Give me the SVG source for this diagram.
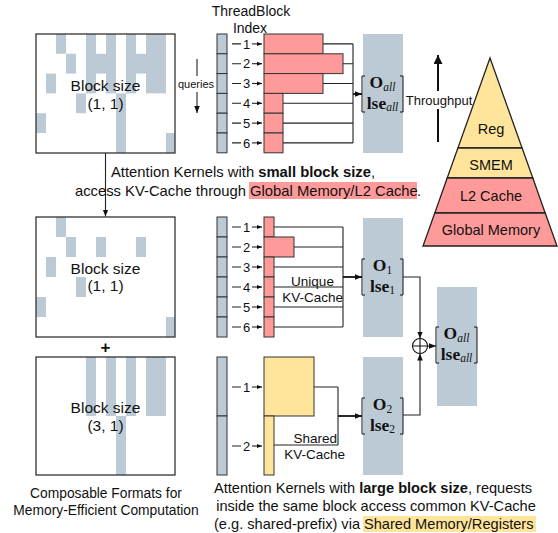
<svg xmlns="http://www.w3.org/2000/svg" width="558" height="533" viewBox="0 0 558 533">
<defs>
<style>
.mat{fill:none;stroke:#333;stroke-width:1.3}
.cell{fill:#bccad5}
.strip{fill:#bccad5;stroke:#333;stroke-width:1}
.red{fill:#ff9a9a;stroke:#333;stroke-width:1}
.yel{fill:#ffe59c;stroke:#333;stroke-width:1}
.gbox{fill:#bccad5}
.ln{fill:none;stroke:#222;stroke-width:1.1}
.arr{fill:none;stroke:#111;stroke-width:1.8}
.t{font-family:"Liberation Sans",Arial,sans-serif;fill:#111}
.m{font-family:"Liberation Serif","DejaVu Serif",serif;fill:#111}
.br{fill:none;stroke:#111;stroke-width:1}
.lab{font-family:"Liberation Sans",Arial,sans-serif;font-size:13px;fill:#111;text-anchor:middle}
</style>
<marker id="ah" viewBox="0 0 10 10" refX="10" refY="5" markerWidth="7" markerHeight="7" markerUnits="userSpaceOnUse" orient="auto"><path d="M0,1 L10,5 L0,9 z" fill="#111"/></marker>
<marker id="ahs" viewBox="0 0 10 10" refX="10" refY="5" markerWidth="5" markerHeight="5" markerUnits="userSpaceOnUse" orient="auto"><path d="M0,1 L10,5 L0,9 z" fill="#111"/></marker>
<marker id="ahb" viewBox="0 0 10 10" refX="10" refY="5" markerWidth="10" markerHeight="9" markerUnits="userSpaceOnUse" orient="auto"><path d="M0,0 L10,5 L0,10 z" fill="#111"/></marker>
</defs>
<rect width="558" height="533" fill="#fff"/>

<!-- Matrices -->
<g id="matrix-top" transform="translate(36,34)">
<rect class="cell" x="20" y="0" width="10" height="19.8"/>
<rect class="cell" x="30" y="19.8" width="10" height="19.8"/>
<rect class="cell" x="50" y="0" width="10" height="59.4"/>
<rect class="cell" x="60" y="19.8" width="10" height="19.8"/>
<rect class="cell" x="70" y="0" width="10" height="59.4"/>
<rect class="cell" x="90" y="0" width="10" height="59.4"/>
<rect class="cell" x="100" y="19.8" width="10" height="19.8"/>
<rect class="cell" x="110" y="0" width="20" height="59.4"/>
<rect class="cell" x="10" y="39.6" width="10" height="19.8"/>
<rect class="cell" x="40" y="59.4" width="10" height="19.8"/>
<rect class="cell" x="80" y="59.4" width="10" height="59.6"/>
<rect class="cell" x="0" y="79.2" width="10" height="19.8"/>
<rect class="cell" x="130" y="99" width="9" height="20"/>
<rect class="mat" x="0" y="0" width="139" height="119"/>
<text class="t" x="69.5" y="57" font-size="15.5" text-anchor="middle">Block size</text>
<text class="t" x="69.5" y="74.5" font-size="15.5" text-anchor="middle">(1, 1)</text>
</g>

<g id="matrix-mid" transform="translate(36,217)">
<rect class="cell" x="20" y="0" width="10" height="20"/>
<rect class="cell" x="30" y="20" width="10" height="20"/>
<rect class="cell" x="60" y="20" width="10" height="20"/>
<rect class="cell" x="100" y="20" width="10" height="20"/>
<rect class="cell" x="10" y="40" width="10" height="20"/>
<rect class="cell" x="40" y="60" width="10" height="20"/>
<rect class="cell" x="0" y="80" width="10" height="20"/>
<rect class="cell" x="130" y="100" width="9" height="20"/>
<rect class="mat" x="0" y="0" width="139" height="120"/>
<text class="t" x="69.5" y="56.5" font-size="15.5" text-anchor="middle">Block size</text>
<text class="t" x="69.5" y="74" font-size="15.5" text-anchor="middle">(1, 1)</text>
</g>

<g id="plus"><text class="t" x="105.5" y="352.5" font-size="17" font-weight="bold" text-anchor="middle">+</text></g>

<g id="matrix-bottom" transform="translate(36,357)">
<rect class="cell" x="50" y="0" width="10" height="59"/>
<rect class="cell" x="70" y="0" width="10" height="59"/>
<rect class="cell" x="90" y="0" width="10" height="59"/>
<rect class="cell" x="110" y="0" width="20" height="59"/>
<rect class="cell" x="80" y="59" width="10" height="59"/>
<rect class="mat" x="0" y="0" width="139" height="118"/>
<text class="t" x="69.5" y="56" font-size="15.5" text-anchor="middle">Block size</text>
<text class="t" x="69.5" y="73.5" font-size="15.5" text-anchor="middle">(3, 1)</text>
</g>

<g id="caption-left">
<text class="t" x="106" y="498" font-size="13.8" text-anchor="middle">Composable Formats for</text>
<text class="t" x="106" y="515" font-size="13.8" text-anchor="middle">Memory-Efficient Computation</text>
</g>

<!-- ThreadBlock header -->
<g id="header">
<text class="t" x="251" y="16" font-size="14" text-anchor="middle">ThreadBlock</text>
<text class="t" x="250" y="33" font-size="14" text-anchor="middle">Index</text>
<text class="t" x="196" y="87.5" font-size="11" text-anchor="middle">queries</text>
</g>

<!-- Top kernel -->
<g id="kernel-top">
<rect class="strip" x="217" y="34" width="10" height="19.8"/>
<rect class="strip" x="217" y="53.8" width="10" height="19.8"/>
<rect class="strip" x="217" y="73.6" width="10" height="19.8"/>
<rect class="strip" x="217" y="93.4" width="10" height="19.8"/>
<rect class="strip" x="217" y="113.2" width="10" height="19.8"/>
<rect class="strip" x="217" y="133" width="10" height="19.8"/>
<rect class="red" x="264" y="34" width="59" height="19.8"/>
<rect class="red" x="264" y="53.8" width="79" height="19.8"/>
<rect class="red" x="264" y="73.6" width="59" height="19.8"/>
<rect class="red" x="264" y="93.4" width="19" height="19.8"/>
<rect class="red" x="264" y="113.2" width="19" height="19.8"/>
<rect class="red" x="264" y="133" width="19" height="19.8"/>
</g>
<g id="out-top">
<rect class="gbox" x="363" y="34" width="40" height="119"/>
<path class="br" d="M365,76 h-3 v36 h3 M400,76 h3 v36 h-3"/>
<text class="m" x="382.5" y="88" font-size="17.5" text-anchor="middle"><tspan font-weight="bold">O</tspan><tspan font-size="11.5" font-style="italic" dy="2.5">all</tspan></text>
<text class="m" x="382.5" y="108.5" font-size="17.5" text-anchor="middle"><tspan font-weight="bold">lse</tspan><tspan font-size="11.5" font-style="italic" dy="2.5">all</tspan></text>
</g>

<!-- Middle kernel -->
<g id="kernel-mid">
<rect class="strip" x="217" y="217" width="10" height="20"/>
<rect class="strip" x="217" y="237" width="10" height="20"/>
<rect class="strip" x="217" y="257" width="10" height="20"/>
<rect class="strip" x="217" y="277" width="10" height="20"/>
<rect class="strip" x="217" y="297" width="10" height="20"/>
<rect class="strip" x="217" y="317" width="10" height="20"/>
<rect class="red" x="264" y="217" width="10" height="20"/>
<rect class="red" x="264" y="237" width="30" height="20"/>
<rect class="red" x="264" y="257" width="10" height="20"/>
<rect class="red" x="264" y="277" width="10" height="20"/>
<rect class="red" x="264" y="297" width="10" height="20"/>
<rect class="red" x="264" y="317" width="10" height="20"/>
</g>
<g id="out-1">
<rect class="gbox" x="363" y="218" width="40" height="119"/>
<path class="br" d="M365,259 h-3 v36 h3 M400,259 h3 v36 h-3"/>
<text class="m" x="382.5" y="271" font-size="17.5" text-anchor="middle"><tspan font-weight="bold">O</tspan><tspan font-size="11.5" dy="2.5">1</tspan></text>
<text class="m" x="382.5" y="291.5" font-size="17.5" text-anchor="middle"><tspan font-weight="bold">lse</tspan><tspan font-size="11.5" dy="2.5">1</tspan></text>
</g>

<!-- Bottom kernel -->
<g id="kernel-bottom">
<rect class="strip" x="217" y="357" width="10" height="59"/>
<rect class="strip" x="217" y="416" width="10" height="59"/>
<rect class="yel" x="264" y="357" width="50" height="59"/>
<rect class="yel" x="264" y="416" width="10" height="59"/>
</g>
<g id="out-2">
<rect class="gbox" x="363" y="357" width="40" height="118"/>
<path class="br" d="M365,398 h-3 v36 h3 M400,398 h3 v36 h-3"/>
<text class="m" x="382.5" y="410" font-size="17.5" text-anchor="middle"><tspan font-weight="bold">O</tspan><tspan font-size="11.5" dy="2.5">2</tspan></text>
<text class="m" x="382.5" y="430.5" font-size="17.5" text-anchor="middle"><tspan font-weight="bold">lse</tspan><tspan font-size="11.5" dy="2.5">2</tspan></text>
</g>

<g id="out-all">
<rect class="gbox" x="437" y="287" width="40" height="119"/>
<path class="br" d="M439,327 h-3 v36 h3 M474,327 h3 v36 h-3"/>
<text class="m" x="456.5" y="339" font-size="17.5" text-anchor="middle"><tspan font-weight="bold">O</tspan><tspan font-size="11.5" font-style="italic" dy="2.5">all</tspan></text>
<text class="m" x="456.5" y="359.5" font-size="17.5" text-anchor="middle"><tspan font-weight="bold">lse</tspan><tspan font-size="11.5" font-style="italic" dy="2.5">all</tspan></text>
</g>

<g id="oplus">
<circle cx="420" cy="346" r="7.5" fill="#fff" stroke="#111" stroke-width="1.1"/>
<path d="M412.5,346 h15 M420,338.5 v15" stroke="#111" stroke-width="1.1"/>
</g>

<!-- Pyramid -->
<g id="pyramid" stroke="#222" stroke-width="1.3">
<polygon points="490,58 522.1,148 457.9,148" fill="#ffe59c"/>
<polygon points="457.9,148 522.1,148 532.8,178 447.2,178" fill="#ffe59c"/>
<polygon points="447.2,178 532.8,178 545.2,213 434.8,213" fill="#ff9a9a"/>
<polygon points="434.8,213 545.2,213 557,246 423,246" fill="#ff9a9a"/>
</g>
<g id="pyramid-labels">
<text class="t" x="491" y="134" font-size="14.5" text-anchor="middle">Reg</text>
<text class="t" x="491" y="170" font-size="14.5" text-anchor="middle">SMEM</text>
<text class="t" x="491" y="201" font-size="14.5" text-anchor="middle">L2 Cache</text>
<text class="t" x="491" y="235" font-size="14.5" text-anchor="middle">Global Memory</text>
</g>
<g id="throughput">
<text class="t" x="439" y="104.5" font-size="13" text-anchor="middle">Throughput</text>
</g>

<!-- Captions -->
<g id="caption-top">
<text class="t" x="111" y="177" font-size="14.8">Attention Kernels with <tspan font-weight="bold">small block size</tspan>,</text>
<rect x="249" y="182" width="168" height="17" fill="#ff9a9a"/>
<text class="t" x="246" y="195.5" font-size="14.8" text-anchor="end">access KV-Cache through</text>
<text class="t" x="250" y="195.5" font-size="14.8">Global Memory/L2 Cache</text>
<text class="t" x="417" y="195.5" font-size="14.8">.</text>
</g>
<g id="caption-bottom">
<text class="t" x="373" y="493" font-size="14.6" text-anchor="middle">Attention Kernels with <tspan font-weight="bold">large block size</tspan>, requests</text>
<text class="t" x="376" y="511" font-size="14.6" text-anchor="middle">inside the same block access common KV-Cache</text>
<rect x="363" y="516" width="173" height="16" fill="#ffe59c"/>
<text class="t" x="360" y="528.5" font-size="14.6" text-anchor="end">(e.g. shared-prefix) via</text>
<text class="t" x="364" y="528.5" font-size="14.6">Shared Memory/Registers</text>
</g>

<g id="kernel-texts">
<text class="t" x="312.5" y="286" font-size="13.5" text-anchor="middle">Unique</text>
<text class="t" x="343" y="302" font-size="13.5" text-anchor="end">KV-Cache</text>
<text class="t" x="337" y="443" font-size="13.5" text-anchor="end">Shared</text>
<text class="t" x="345" y="459" font-size="13.5" text-anchor="end">KV-Cache</text>
</g>

<!-- Connectors -->
<g id="connectors">
<line class="ln" x1="105.5" y1="153" x2="105.5" y2="216.5" marker-end="url(#ah)"/>
<line class="ln" x1="197" y1="59" x2="197" y2="76"/>
<line class="ln" x1="197" y1="92" x2="197" y2="113" marker-end="url(#ah)"/>
<line x1="438" y1="142" x2="438" y2="109" stroke="#111" stroke-width="2"/>
<line x1="438" y1="91" x2="438" y2="55" stroke="#111" stroke-width="2" marker-end="url(#ahb)"/>
<path class="ln" d="M323,43.9 H353 M343,63.7 H353 M323,83.5 H353 M283,103.3 H353 M283,123.1 H353 M283,142.9 H353 M353,43.9 V142.9"/>
<line class="arr" x1="353" y1="94" x2="362" y2="94" marker-end="url(#ah)"/>
<path class="ln" d="M274,227 H343 M294,247 H343 M274,267 H343 M274,287 H343 M274,307 H343 M274,327 H343 M343,227 V327"/>
<line class="arr" x1="343" y1="277" x2="362" y2="277" marker-end="url(#ah)"/>
<path class="ln" d="M314,387 H338 M274,445 H338 M338,387 V445"/>
<line class="arr" x1="338" y1="416" x2="362" y2="416" marker-end="url(#ah)"/>
<path class="ln" d="M403,277 H420 V338.5" marker-end="url(#ah)"/>
<path class="ln" d="M403,415 H420 V353.5" marker-end="url(#ah)"/>
<line class="ln" x1="427.5" y1="346" x2="436" y2="346" marker-end="url(#ah)"/>
<g id="labels-top">
<path class="ln" d="M232,43.9 h9 M232,63.7 h9 M232,83.5 h9 M232,103.3 h9 M232,123.1 h9 M232,142.9 h9"/>
<line class="ln" x1="252" y1="43.9" x2="262" y2="43.9" marker-end="url(#ahs)"/>
<line class="ln" x1="252" y1="63.7" x2="262" y2="63.7" marker-end="url(#ahs)"/>
<line class="ln" x1="252" y1="83.5" x2="262" y2="83.5" marker-end="url(#ahs)"/>
<line class="ln" x1="252" y1="103.3" x2="262" y2="103.3" marker-end="url(#ahs)"/>
<line class="ln" x1="252" y1="123.1" x2="262" y2="123.1" marker-end="url(#ahs)"/>
<line class="ln" x1="252" y1="142.9" x2="262" y2="142.9" marker-end="url(#ahs)"/>
<text class="lab" x="246.5" y="48.5">1</text>
<text class="lab" x="246.5" y="68.3">2</text>
<text class="lab" x="246.5" y="88.1">3</text>
<text class="lab" x="246.5" y="107.9">4</text>
<text class="lab" x="246.5" y="127.7">5</text>
<text class="lab" x="246.5" y="147.5">6</text>
</g>
<g id="labels-mid">
<path class="ln" d="M232,227 h9 M232,247 h9 M232,267 h9 M232,287 h9 M232,307 h9 M232,327 h9"/>
<line class="ln" x1="252" y1="227" x2="262" y2="227" marker-end="url(#ahs)"/>
<line class="ln" x1="252" y1="247" x2="262" y2="247" marker-end="url(#ahs)"/>
<line class="ln" x1="252" y1="267" x2="262" y2="267" marker-end="url(#ahs)"/>
<line class="ln" x1="252" y1="287" x2="262" y2="287" marker-end="url(#ahs)"/>
<line class="ln" x1="252" y1="307" x2="262" y2="307" marker-end="url(#ahs)"/>
<line class="ln" x1="252" y1="327" x2="262" y2="327" marker-end="url(#ahs)"/>
<text class="lab" x="246.5" y="231.6">1</text>
<text class="lab" x="246.5" y="251.6">2</text>
<text class="lab" x="246.5" y="271.6">3</text>
<text class="lab" x="246.5" y="291.6">4</text>
<text class="lab" x="246.5" y="311.6">5</text>
<text class="lab" x="246.5" y="331.6">6</text>
</g>
<g id="labels-bottom">
<path class="ln" d="M232,387 h9 M232,446 h9"/>
<line class="ln" x1="252" y1="387" x2="262" y2="387" marker-end="url(#ahs)"/>
<line class="ln" x1="252" y1="446" x2="262" y2="446" marker-end="url(#ahs)"/>
<text class="lab" x="246.5" y="391.6">1</text>
<text class="lab" x="246.5" y="450.6">2</text>
</g>
</g>
</svg>
